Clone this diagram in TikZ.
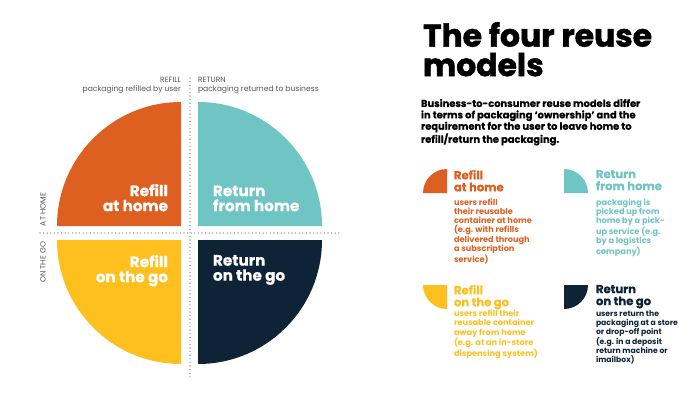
\documentclass[tikz,border=0pt]{standalone}
\usepackage{fontspec}
\setmainfont{Poppins}
\newfontfamily\heavyfont{Poppins}[BoldFeatures={FakeBold=1.4}]
\newfontfamily\semiheavyfont{Poppins}[BoldFeatures={FakeBold=0.5}]
\definecolor{orangeq}{HTML}{DD6020}
\definecolor{tealq}{HTML}{6FC4C4}
\definecolor{yellowq}{HTML}{FDC01E}
\definecolor{navyq}{HTML}{0E2336}
\definecolor{greyt}{HTML}{555555}
\tikzset{
  every node/.style={inner sep=0pt,outer sep=0pt},
  dotline/.style={draw=black!75,line width=1.1pt,line cap=round,dash pattern=on 0pt off 3.6pt},
  biglabel/.style={font=\fontsize{15.2}{15}\selectfont\semiheavyfont\bfseries,text=white},
  axislabel/.style={font=\fontsize{7.6}{9.5}\selectfont,text=greyt},
  headlabel/.style={font=\fontsize{11.6}{12}\selectfont\semiheavyfont\bfseries,align=left,anchor=north west},
  bodylabel/.style={font=\fontsize{8.2}{9.3}\selectfont\bfseries,align=left,anchor=north west},
}
\begin{document}
\begin{tikzpicture}[x=1pt,y=-1pt]
\useasboundingbox (0,0) rectangle (700,400);
% quadrants
\fill[orangeq] (181,226) -- (57,226) arc[start angle=180,end angle=270,radius=124] -- cycle;
\fill[tealq] (198,226) -- (198,102) arc[start angle=270,end angle=360,radius=124] -- cycle;
\fill[yellowq] (181,240) -- (181,364) arc[start angle=90,end angle=180,radius=124] -- cycle;
\fill[navyq] (198,240) -- (322,240) arc[start angle=0,end angle=90,radius=124] -- cycle;
% axes
\coordinate (vt) at (190,78);
\coordinate (vb) at (190,377);
\coordinate (hl) at (40,233);
\coordinate (hr) at (341,233);
\draw[dotline] (vt) -- (vb);
\draw[dotline] (hl) -- (hr);
% axis labels
\node[axislabel,align=right,anchor=north east] (refillax) at (181,77) {REFILL\\packaging refilled by user};
\node[axislabel,align=left,anchor=north west] (returnax) at (198,77) {RETURN\\packaging returned to business};
\node[axislabel,rotate=90,anchor=west] (athome) at (43,226) {AT HOME};
\node[axislabel,rotate=90,anchor=east] (onthego) at (43,242) {ON THE GO};
% big labels
\node[biglabel,align=right,anchor=north east] (a) at (168,184) {Refill\\at home};
\node[biglabel,align=left,anchor=north west] (b) at (213,185.5) {Return\\from home};
\node[biglabel,align=right,anchor=north east] (c) at (168,255) {Refill\\on the go};
\node[biglabel,align=left,anchor=north west] (d) at (213,255) {Return\\on the go};
% title
\node[font=\fontsize{31.4}{29.5}\selectfont\heavyfont\bfseries,align=left,anchor=north west] (title) at (423,22) {The four reuse\\models};
\node[font=\fontsize{9.9}{11.4}\selectfont\semiheavyfont\bfseries,align=left,anchor=north west] (intro) at (421,99) {Business-to-consumer reuse models differ\\in terms of packaging ‘ownership’ and the\\requirement for the user to leave home to\\refill/return the packaging.};
% legend shapes
\fill[orangeq] (447,193) -- (423,193) arc[start angle=180,end angle=270,radius=24] -- cycle;
\fill[tealq] (564,193) -- (564,169) arc[start angle=270,end angle=360,radius=24] -- cycle;
\fill[yellowq] (447,285) -- (447,309) arc[start angle=90,end angle=180,radius=24] -- cycle;
\fill[navyq] (564,285) -- (588,285) arc[start angle=0,end angle=90,radius=24] -- cycle;
% legend text
\node[headlabel,text=orangeq] (h1) at (454,170) {Refill\\at home};
\node[bodylabel,text=orangeq] (t1) at (454,198.5) {users refill\\their reusable\\container at home\\(e.g. with refills\\delivered through\\a subscription\\service)};
\node[headlabel,text=tealq] (h2) at (596,170) {Return\\from home};
\node[bodylabel,text=tealq] (t2) at (596,198.5) {packaging is\\picked up from\\home by a pick-\\up service (e.g.\\by a logistics\\company)};
\node[headlabel,text=yellowq] (h3) at (454,285) {Refill\\on the go};
\node[bodylabel,text=yellowq] (t3) at (454,310) {users refill their\\reusable container\\away from home\\(e.g. at an in-store\\dispensing system)};
\node[headlabel,text=navyq] (h4) at (596,285) {Return\\on the go};
\node[bodylabel,text=navyq,font=\fontsize{7.7}{9.3}\selectfont\bfseries] (t4) at (596,310.5) {users return the\\packaging at a store\\or drop-off point\\(e.g. in a deposit\\return machine or\\imailbox)};
\end{tikzpicture}
\end{document}
